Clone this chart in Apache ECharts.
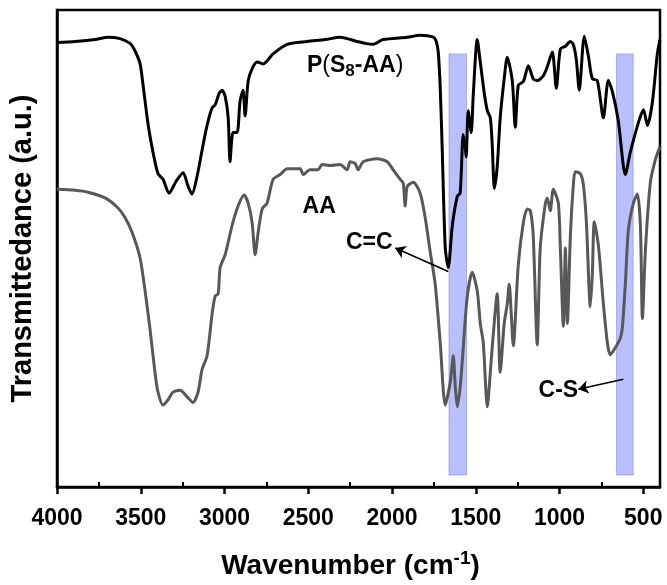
<!DOCTYPE html>
<html>
<head>
<meta charset="utf-8">
<script src="https://cdn.jsdelivr.net/npm/echarts@6/dist/echarts.min.js"></script>
<style>html,body{margin:0;padding:0;background:#fff}#c{width:667px;height:585px}</style>
</head>
<body>
<div id="c"></div>
<script>
// Wavenumber ticks
const majorTicks = [4000, 3500, 3000, 2500, 2000, 1500, 1000, 500];
const minorTicks = [3750, 3250, 2750, 2250, 1750, 1250, 750];

// P(S8-AA) spectrum (wavenumber, transmittance a.u.)
const wavenumberP = [4000,3892,3773,3695,3624,3564,3534,3504,3486,3456,3427,3397,3367,3331,3289,3247,3217,3194,3164,3134,3104,3074,3056,3032,3014,2996,2978,2967,2949,2925,2907,2889,2877,2859,2835,2805,2769,2710,2626,2507,2399,2309,2208,2160,2112,2053,1909,1832,1754,1736,1724,1712,1700,1682,1664,1640,1610,1593,1575,1563,1557,1545,1527,1515,1491,1473,1449,1431,1413,1401,1389,1372,1354,1330,1312,1282,1264,1246,1216,1186,1157,1133,1097,1073,1043,1019,995,965,935,918,900,882,852,828,804,774,738,709,685,649,607,577,529,499,475,446,416,400];
const transP = [93.2,93.4,93.8,94.3,94.0,93.0,91.4,88.7,84.2,76.0,70.2,65.7,64.5,61.6,64.1,65.9,63.0,61.4,65.1,70.6,75.8,79.5,80.1,82.5,83.2,81.9,77.4,68.2,74.3,74.3,80.9,83.2,77.8,85.0,87.7,89.1,88.7,90.8,92.8,93.4,93.8,94.3,93.4,93.0,92.8,93.8,94.3,94.7,94.3,93.4,91.2,83.6,70.6,50.1,46.0,54.8,61.0,61.6,73.9,71.3,69.2,78.9,74.3,82.1,93.8,89.1,82.5,78.9,77.4,71.3,62.6,67.1,77.4,85.6,90.1,85.2,75.4,84.2,85.0,88.3,85.6,85.2,86.2,88.1,91.2,83.6,91.8,92.4,93.4,92.8,89.7,83.2,94.5,90.4,85.6,85.2,77.4,85.2,83.0,76.8,65.5,70.2,76.4,79.1,75.8,80.5,90.8,93.8];

// AA spectrum
const wavenumberAA = [4000,3892,3815,3713,3636,3594,3552,3504,3474,3444,3415,3397,3367,3337,3307,3265,3223,3188,3158,3134,3104,3074,3056,3038,3026,2996,2955,2919,2883,2859,2835,2817,2799,2775,2746,2710,2668,2626,2590,2548,2530,2489,2441,2417,2369,2309,2268,2250,2220,2202,2172,2088,2029,1993,1951,1933,1921,1909,1873,1832,1802,1772,1742,1712,1682,1652,1634,1622,1610,1593,1581,1551,1521,1491,1473,1455,1431,1413,1401,1372,1354,1330,1312,1300,1288,1276,1246,1216,1192,1174,1157,1133,1115,1085,1073,1055,1037,1007,995,977,965,953,935,918,906,876,858,840,816,804,792,768,738,714,697,667,637,625,607,589,559,535,517,505,487,458,428,400];
const transAA = [62.4,62.2,61.8,60.6,58.5,56.5,53.4,48.0,41.1,32.9,24.0,19.9,17.2,18.3,19.9,20.3,18.9,17.7,19.9,24.6,27.5,36.3,40.0,40.5,46.0,48.7,54.8,58.9,61.2,59.5,55.4,48.7,53.4,58.3,59.5,64.5,65.5,66.7,66.7,66.7,65.5,66.5,66.5,67.6,67.4,67.6,66.5,68.2,67.8,66.5,68.2,68.8,68.2,66.5,64.5,63.7,58.9,63.0,63.9,61.6,56.5,49.3,42.5,30.2,17.2,22.0,27.5,20.9,16.8,20.9,26.1,39.8,45.0,41.1,34.3,30.2,16.8,24.0,29.6,40.5,24.0,34.3,38.4,42.5,36.3,29.6,46.6,55.4,58.3,57.9,52.8,29.8,50.1,59.3,60.6,57.9,62.4,59.5,50.1,33.7,50.1,34.3,52.8,63.0,66.1,65.7,63.5,55.9,37.8,44.6,55.6,50.7,38.4,30.2,27.7,29.2,31.2,33.3,42.5,53.8,59.5,61.4,54.8,35.3,49.7,63.7,68.6,71.3];

// Highlighted bands (wavenumber ranges) and their vertical extent
const bandRanges = [[1660, 1555], [660, 560]];
const bandExtent = [2.5, 90.8];

// Annotations: [text key, wavenumber, transmittance]
const labelNames = ['P(S8-AA)', 'AA', 'C=C', 'C-S'];
const labelPos = [[2220, 88.3], [2435, 58.7], [2136, 51.3], [1007, 20.3]];
// Arrows: [tail, head]
const arrows = [[[1664, 45.2], [1981, 50.1]], [[619, 22.6], [888, 20.5]]];

const FONT = 'Liberation Sans';

const chart = echarts.init(document.getElementById('c'), null, {renderer: 'canvas'});

const labelFormatters = {
  'P(S8-AA)': '{b|P}{n|(}{b|S}{s|8}{b|-AA}{n|)}',
  'AA': '{b|AA}',
  'C=C': '{b|C=C}',
  'C-S': '{b|C-S}'
};

const option = {
  animation: false,
  backgroundColor: '#fff',
  grid: {left: 57, right: 7, top: 10, bottom: 88, show: true, borderColor: '#000', borderWidth: 2.5, backgroundColor: 'transparent'},
  xAxis: [
    {
      type: 'value', inverse: true, min: 400, max: 4000, position: 'bottom',
      axisLine: {show: true, lineStyle: {color: '#000', width: 2.5}},
      axisTick: {show: true, inside: false, length: 7, lineStyle: {color: '#000', width: 2.5}, customValues: majorTicks},
      axisLabel: {show: true, customValues: majorTicks, margin: 20, color: '#000', fontSize: 23, fontWeight: 'bold', fontFamily: FONT, formatter: v => String(v)},
      splitLine: {show: false},
      name: '{t|Wavenumber (cm}{sup|-1}{t|)}',
      nameLocation: 'middle', nameGap: 62,
      nameTextStyle: {
        padding: [0, 16, 0, 0],
        rich: {
          t: {fontSize: 28, fontWeight: 'bold', fontFamily: FONT, color: '#000', lineHeight: 34},
          sup: {fontSize: 19, fontWeight: 'bold', fontFamily: FONT, color: '#000', verticalAlign: 'top', lineHeight: 19}
        }
      }
    },
    {
      type: 'value', inverse: true, min: 400, max: 4000, position: 'bottom',
      axisLine: {show: false},
      axisTick: {show: true, inside: true, length: 5, lineStyle: {color: '#000', width: 2}, customValues: minorTicks},
      axisLabel: {show: false},
      splitLine: {show: false}
    }
  ],
  yAxis: {
    type: 'value', min: 0, max: 100,
    axisLine: {show: true, lineStyle: {color: '#000', width: 2.5}},
    axisTick: {show: false}, axisLabel: {show: false}, splitLine: {show: false},
    name: 'Transmittedance (a.u.)', nameLocation: 'middle', nameGap: 20, nameRotate: 90,
    nameTextStyle: {fontSize: 29, fontWeight: 'bold', fontFamily: FONT, color: '#000'}
  },
  series: [
    {
      name: 'P(S8-AA)', type: 'line', xAxisIndex: 0, z: 2,
      data: wavenumberP.map((w, i) => [w, transP[i]]),
      showSymbol: false, smooth: 0.25,
      lineStyle: {color: '#000', width: 3}
    },
    {
      name: 'AA', type: 'line', xAxisIndex: 0, z: 2,
      data: wavenumberAA.map((w, i) => [w, transAA[i]]),
      showSymbol: false, smooth: 0.25,
      lineStyle: {color: '#585858', width: 3}
    },
    {
      name: 'annotations', type: 'line', xAxisIndex: 0, z: 5, data: [], silent: true,
      markArea: {
        silent: true,
        itemStyle: {color: 'rgba(68,92,252,0.38)', borderColor: 'rgba(70,80,200,0.35)', borderWidth: 1},
        data: bandRanges.map(r => [{xAxis: r[0], yAxis: bandExtent[0]}, {xAxis: r[1], yAxis: bandExtent[1]}])
      },
      markLine: {
        silent: true, symbol: ['none', 'arrow'], symbolSize: 10,
        label: {show: false},
        lineStyle: {color: '#000', width: 1.6, type: 'solid'},
        data: arrows.map(a => [{coord: a[0]}, {coord: a[1]}])
      },
      markPoint: {
        silent: true, symbol: 'rect', symbolSize: 1,
        itemStyle: {color: 'rgba(0,0,0,0)'},
        label: {
          show: true, position: 'inside', color: '#000',
          rich: {
            b: {fontSize: 23, fontWeight: 'bold', fontFamily: FONT, color: '#000'},
            n: {fontSize: 23, fontWeight: 'normal', fontFamily: FONT, color: '#000'},
            s: {fontSize: 17, fontWeight: 'bold', fontFamily: FONT, color: '#000', verticalAlign: 'bottom', padding: [12, 0, 0, 0]}
          }
        },
        data: labelNames.map((n, i) => ({name: n, coord: labelPos[i], label: {formatter: labelFormatters[n]}}))
      }
    }
  ]
};
chart.setOption(option);
</script>
</body>
</html>
